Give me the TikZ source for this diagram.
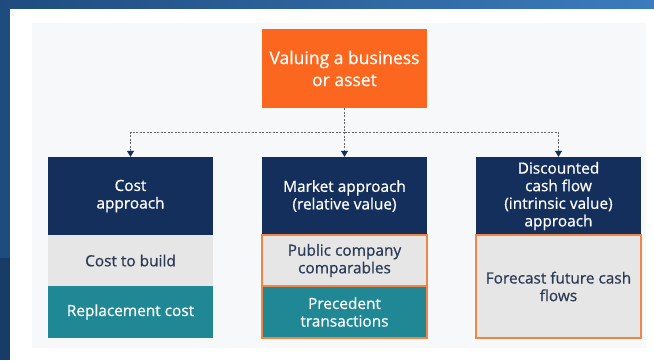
\documentclass[tikz,border=0pt]{standalone}
\usepackage{fontspec}
\setmainfont{Open Sans}
\newfontfamily\semib{Open Sans}[FakeBold=0.7]
\usetikzlibrary{arrows.meta}
\definecolor{bgL}{HTML}{1F4C7E}
\definecolor{bgR}{HTML}{3C7CBD}
\definecolor{bgD}{HTML}{183C68}
\definecolor{panel}{HTML}{F7F8FA}
\definecolor{orng}{HTML}{FB671E}
\definecolor{navy}{HTML}{142F5C}
\definecolor{lgray}{HTML}{E6E6E6}
\definecolor{teal}{HTML}{1F8894}
\definecolor{obord}{HTML}{F08545}
\definecolor{dtext}{HTML}{2B3A55}
\tikzset{
  box/.style={minimum width=165pt, inner sep=2pt, align=center, font=\semib\fontsize{15.4}{17.6}\selectfont},
  topbox/.style={box, fill=orng, text=white, minimum height=79pt, font=\semib\fontsize{17.5}{22}\selectfont},
  headbox/.style={box, fill=navy, text=white, minimum height=78pt},
  graybox/.style={box, fill=lgray, text=dtext},
  tealbox/.style={box, fill=teal, text=white},
  oline/.style={draw=obord, line width=1.5pt},
  link/.style={draw=black!60, dashed, dash pattern=on 2pt off 1.5pt, line width=0.7pt},
  tip/.style={-{Triangle[width=7pt,length=6pt,fill=navy,color=navy]}}
}
\begin{document}
\begin{tikzpicture}[x=1pt,y=-1pt]
\useasboundingbox (0,0) rectangle (654,360);
\fill[white] (0,0) rectangle (654,360);
\shade[left color=bgL, right color=bgR] (0,0) rectangle (654,8);
\fill[bgL] (0,8) rectangle (10,258);
\fill[bgD] (0,258) rectangle (10,360);
\fill[panel] (32,23) rectangle (646,348);

\node[topbox] (top) at (344.5,68.5) {Valuing a business\\or asset};

\node[headbox] (h1) at (130.5,196) {Cost\\approach};
\node[graybox, minimum height=51pt] (c1a) at (130.5,260.5) {Cost to build};
\node[tealbox, minimum height=52pt] (c1b) at (130.5,312) {Replacement cost};

\node[headbox] (h2) at (344.5,196) {Market approach\\(relative value)};
\node[graybox, oline, minimum height=51pt] (c2a) at (344.5,260.5) {Public company\\comparables};
\node[tealbox, oline, minimum height=52pt] (c2b) at (344.5,312) {Precedent\\transactions};

\node[headbox] (h3) at (558.5,196) {Discounted\\cash flow\\(intrinsic value)\\approach};
\node[graybox, oline, minimum height=103pt] (c3a) at (558.5,286.5) {Forecast future cash\\flows};

\coordinate (j) at (344.5,132);
\draw[link] (top.south) -- (j);
\draw[link, tip] (j) -| (h1.north);
\draw[link, tip] (j) -- (h2.north);
\draw[link, tip] (j) -| (h3.north);
\end{tikzpicture}
\end{document}
